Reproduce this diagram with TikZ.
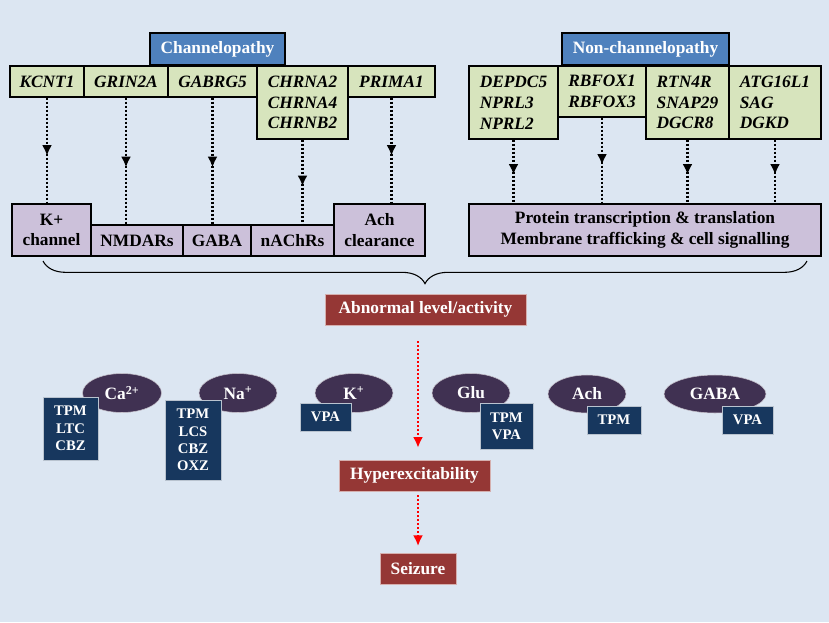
\documentclass[tikz,border=0pt]{standalone}
\usepackage{fontspec}
\setmainfont{Liberation Serif}
\usetikzlibrary{arrows.meta}
\usetikzlibrary{shapes.geometric}
\usetikzlibrary{decorations.markings}
\usetikzlibrary{decorations.pathreplacing}
\definecolor{bgblue}{HTML}{DCE6F2}
\definecolor{headblue}{HTML}{4F81BD}
\definecolor{genegreen}{HTML}{D7E4BD}
\definecolor{funclilac}{HTML}{CCC1DA}
\definecolor{stepred}{HTML}{953735}
\definecolor{ionpurple}{HTML}{403152}
\definecolor{drugblue}{HTML}{17375E}
\tikzset{wh/.style 2 args = {minimum width=#1*0.75pt, minimum height=#2*0.75pt},
         box/.style = {draw, line width=1pt, inner sep=0pt,
                       font=\bfseries\fontsize{13}{15.6}\selectfont},
         head/.style = {box, fill=headblue, text=white},
         gene/.style = {box, fill=genegreen,
                        font=\bfseries\itshape\fontsize{13}{15.6}\selectfont},
         func/.style = {box, fill=funclilac, align=center},
         stepbox/.style = {fill=stepred, draw=white!60!stepred, line width=0.4pt,
                           inner sep=0pt, text=white,
                           font=\bfseries\fontsize{13}{15.6}\selectfont},
         ion/.style = {ellipse, fill=ionpurple, draw=white!70!ionpurple,
                       line width=0.4pt, inner sep=0pt, text=white,
                       font=\bfseries\fontsize{13}{15.6}\selectfont},
         drug/.style = {fill=drugblue, draw=white!70!drugblue, line width=0.4pt,
                        inner sep=0pt, text=white, align=center,
                        font=\bfseries\fontsize{11}{13}\selectfont},
         dotarrow/.style = {line width=1.8pt, dash pattern=on 1.6pt off 1.4pt,
                            decoration={markings,
                                        mark=at position 0.55
                                        with {\arrow{Latex[length=8pt,width=7.5pt]}}},
                            postaction={decorate}},
         redarrow/.style = {red, line width=1.8pt, dash pattern=on 1.6pt off 1.4pt,
                            -{Latex[length=8pt,width=7.5pt]}},
         curly/.style = {line width=0.8pt, decorate,
                         decoration={brace, mirror, amplitude=17pt}}}
\begin{document}
\begin{tikzpicture}[x=0.75pt, y=-0.75pt]
    \fill [bgblue] (0, 0) rectangle (829, 622);
    \useasboundingbox (0, 0) rectangle (829, 622);
    \node [head, wh={135}{32}] (chan) at (217.5, 49) {Channelopathy};
    \node [head, wh={167}{32}] (nonchan) at (645.5, 49) {Non-channelopathy};
    \node [gene, wh={74}{31}] (kcnt) at (47, 81.5) {KCNT1};
    \node [gene, wh={84}{31}] (grin) at (126, 81.5) {GRIN2A};
    \node [gene, wh={89}{31}] (gabrg) at (212.5, 81.5) {GABRG5};
    \node [gene, wh={91}{73}, align=center] (chrna) at (302.5, 102.5) {CHRNA2\\CHRNA4\\CHRNB2};
    \node [gene, wh={87}{31}] (prima) at (391.5, 81.5) {PRIMA1};
    \node [gene, wh={89}{73}, align=left] (depdc) at (513.5, 102.5) {DEPDC5\\NPRL3\\NPRL2};
    \node [gene, wh={88}{51}, align=left] (rbfox) at (602, 91.5) {RBFOX1\\RBFOX3};
    \node [gene, wh={83}{73}, align=left] (rtn) at (687.5, 102.5) {RTN4R\\SNAP29\\DGCR8};
    \node [gene, wh={92}{73}, align=left] (atg) at (775, 102.5) {ATG16L1\\SAG\\DGKD};
    \node [func, wh={79}{52}] (kch) at (51.5, 230) {K+\\channel};
    \node [func, wh={92}{31}] (nmda) at (137, 240.5) {NMDARs};
    \node [func, wh={68}{31}] (gaba) at (217, 240.5) {GABA};
    \node [func, wh={83}{31}] (nach) at (292.5, 240.5) {nAChRs};
    \node [func, wh={91}{52}] (achc) at (379.5, 230) {Ach\\clearance};
    \node [func, wh={352}{52}] (prot) at (645, 230) {Protein transcription \& translation\\Membrane trafficking \& cell signalling};
    \draw [dotarrow] (kcnt) -- (kcnt |- kch.north);
    \draw [dotarrow] (grin) -- (grin |- nmda.north);
    \draw [dotarrow] (gabrg) -- (gabrg |- gaba.north);
    \draw [dotarrow] (chrna) -- (chrna |- nach.north);
    \draw [dotarrow] (prima) -- (prima |- achc.north);
    \draw [dotarrow] (depdc) -- (depdc |- prot.north);
    \draw [dotarrow] (rbfox) -- (rbfox |- prot.north);
    \draw [dotarrow] (rtn) -- (rtn |- prot.north);
    \draw [dotarrow] (atg) -- (atg |- prot.north);
    \coordinate (bl) at (43, 261);
    \coordinate (br) at (807, 261);
    \draw [curly] (bl) -- (br);
    \node [stepbox, wh={201}{31}] (abn) at (425.5, 309.5) {Abnormal level/activity};
    \node [stepbox, wh={151}{31}] (hyp) at (414.5, 475.5) {Hyperexcitability};
    \node [stepbox, wh={76}{31}] (sei) at (418, 568.5) {Seizure};
    \draw [redarrow, shorten <=12pt, shorten >=9pt] (abn.south -| sei) -- (hyp.north -| sei);
    \draw [redarrow, shorten <=3pt, shorten >=5pt] (hyp.south -| sei) -- (sei.north);
    \node [ion, wh={79}{39}] (ca) at (122, 393) {Ca\textsuperscript{2+}};
    \node [ion, wh={78}{39}] (na) at (238, 393) {Na\textsuperscript{+}};
    \node [ion, wh={78}{39}] (k) at (354, 393) {K\textsuperscript{+}};
    \node [ion, wh={78}{39}] (glu) at (471, 393) {Glu};
    \node [ion, wh={78}{38}] (ach) at (587, 394) {Ach};
    \node [ion, wh={102}{38}] (gab) at (715, 394) {GABA};
    \node [drug, wh={55}{63}] (cadrug) at (70.5, 428.5) {TPM\\LTC\\CBZ};
    \node [drug, wh={56}{80}] (nadrug) at (193, 440) {TPM\\LCS\\CBZ\\OXZ};
    \node [drug, wh={51}{28}] (kdrug) at (325.5, 417) {VPA};
    \node [drug, wh={53}{46}] (gludrug) at (506.5, 426) {TPM\\VPA};
    \node [drug, wh={54}{28}] (achdrug) at (614, 420) {TPM};
    \node [drug, wh={51}{28}] (gabdrug) at (747.5, 420) {VPA};
  \end{tikzpicture}
\end{document}
